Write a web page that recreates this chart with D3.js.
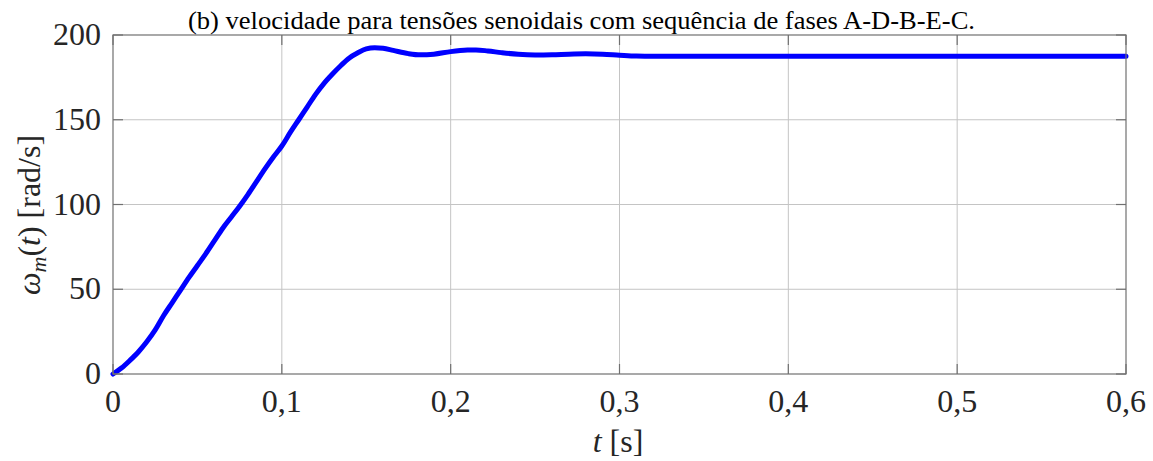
<!DOCTYPE html>
<html>
<head>
<meta charset="utf-8">
<script src="https://cdn.jsdelivr.net/npm/d3@7"></script>
<style>
  html, body { margin: 0; padding: 0; background: #fff; }
  svg { display: block; }
  .tick-label { font-family: "Liberation Serif", "Times New Roman", Times, serif; font-size: 32px; fill: #262626; }
  .title { font-family: "Liberation Serif", "Times New Roman", Times, serif; font-size: 25px; fill: #000; }
</style>
</head>
<body>
<svg id="chart" width="1153" height="461"></svg>
<script>
// Rotor speed response (time in seconds, speed in rad/s)
const time = [0, 0.005, 0.01, 0.015, 0.02, 0.025, 0.03, 0.035, 0.04, 0.045,
  0.05, 0.055, 0.06, 0.065, 0.07, 0.075, 0.08, 0.085, 0.09, 0.095,
  0.1, 0.105, 0.11, 0.115, 0.12, 0.125, 0.13, 0.135, 0.14, 0.145,
  0.15, 0.155, 0.16, 0.166, 0.175, 0.182, 0.19, 0.2, 0.21, 0.215,
  0.222, 0.23, 0.24, 0.25, 0.26, 0.27, 0.28, 0.29, 0.3, 0.31,
  0.32, 0.4, 0.5, 0.6];
const speed = [0, 3.5, 8, 13, 19, 26, 34.5, 42, 49.5, 57,
  64, 71, 78.5, 86, 92.5, 99, 106, 113.5, 121, 128,
  134.5, 142.5, 150, 157.5, 165, 171.5, 177, 182, 186.5, 189.5,
  191.8, 192.5, 192.2, 190.9, 189, 188.3, 188.7, 190.2, 191.1, 191.2,
  190.6, 189.6, 188.6, 188.2, 188.3, 188.7, 188.9, 188.7, 188.1, 187.6,
  187.5, 187.5, 187.5, 187.5];

const xTicks = [0, 0.1, 0.2, 0.3, 0.4, 0.5, 0.6];
const xTickLabels = ["0", "0,1", "0,2", "0,3", "0,4", "0,5", "0,6"];
const yTicks = [0, 50, 100, 150, 200];
const yTickLabels = ["0", "50", "100", "150", "200"];

const titleText = "(b) velocidade para tensões senoidais com sequência de fases A-D-B-E-C.";

const svg = d3.select("#chart");
const plotLeft = 113, plotRight = 1126, plotTop = 35, plotBottom = 374;

const x = d3.scaleLinear().domain([0, 0.6]).range([plotLeft, plotRight]);
const y = d3.scaleLinear().domain([0, 200]).range([plotBottom, plotTop]);

// grid
const grid = svg.append("g");
grid.selectAll("line.gx").data(xTicks.slice(1, -1)).join("line")
  .attr("x1", d => x(d)).attr("x2", d => x(d))
  .attr("y1", plotTop).attr("y2", plotBottom)
  .attr("stroke", "#c4c4c4").attr("stroke-width", 1);
grid.selectAll("line.gy").data(yTicks.slice(1, -1)).join("line")
  .attr("x1", plotLeft).attr("x2", plotRight)
  .attr("y1", d => y(d)).attr("y2", d => y(d))
  .attr("stroke", "#c4c4c4").attr("stroke-width", 1);

// curve
const pts = time.map((t, i) => [t, speed[i]]);
svg.append("path")
  .datum(pts)
  .attr("fill", "none")
  .attr("stroke", "#0000ff")
  .attr("stroke-width", 5)
  .attr("stroke-linejoin", "round")
  .attr("stroke-linecap", "round")
  .attr("d", d3.line().x(d => x(d[0])).y(d => y(d[1])).curve(d3.curveMonotoneX));

// frame and inward ticks
const axisColor = "#707070";
svg.append("rect")
  .attr("x", plotLeft).attr("y", plotTop)
  .attr("width", plotRight - plotLeft).attr("height", plotBottom - plotTop)
  .attr("fill", "none").attr("stroke", axisColor).attr("stroke-width", 1.2);

const tl = 10;
const ticks = svg.append("g").attr("stroke", axisColor).attr("stroke-width", 1.2);
xTicks.forEach(t => {
  ticks.append("line").attr("x1", x(t)).attr("x2", x(t)).attr("y1", plotBottom).attr("y2", plotBottom - tl);
  ticks.append("line").attr("x1", x(t)).attr("x2", x(t)).attr("y1", plotTop).attr("y2", plotTop + tl);
});
yTicks.forEach(v => {
  ticks.append("line").attr("x1", plotLeft).attr("x2", plotLeft + tl).attr("y1", y(v)).attr("y2", y(v));
  ticks.append("line").attr("x1", plotRight).attr("x2", plotRight - tl).attr("y1", y(v)).attr("y2", y(v));
});

// tick labels
svg.append("g").selectAll("text").data(xTicks).join("text")
  .attr("class", "tick-label")
  .attr("x", d => x(d)).attr("y", 412)
  .attr("text-anchor", "middle")
  .text((d, i) => xTickLabels[i]);

svg.append("g").selectAll("text").data(yTicks).join("text")
  .attr("class", "tick-label")
  .attr("x", 101).attr("y", d => y(d) + 10)
  .attr("text-anchor", "end")
  .text((d, i) => yTickLabels[i]);

// x label
const xl = svg.append("text")
  .attr("class", "tick-label")
  .attr("x", 618).attr("y", 452)
  .attr("text-anchor", "middle");
xl.append("tspan").attr("font-style", "italic").text("t");
xl.append("tspan").text(" [s]");

// y label
const yl = svg.append("text")
  .attr("class", "tick-label")
  .attr("transform", "translate(40,215) rotate(-90)")
  .attr("text-anchor", "middle");
yl.append("tspan").attr("font-style", "italic").text("ω");
yl.append("tspan").attr("font-style", "italic").attr("font-size", "22px").attr("dy", 6).text("m");
yl.append("tspan").attr("dy", -6).text("(");
yl.append("tspan").attr("font-style", "italic").text("t");
yl.append("tspan").text(") [rad/s]");

// title
svg.append("text")
  .attr("class", "title")
  .attr("x", 188).attr("y", 29)
  .attr("textLength", 787)
  .attr("lengthAdjust", "spacingAndGlyphs")
  .text(titleText);
</script>
</body>
</html>
